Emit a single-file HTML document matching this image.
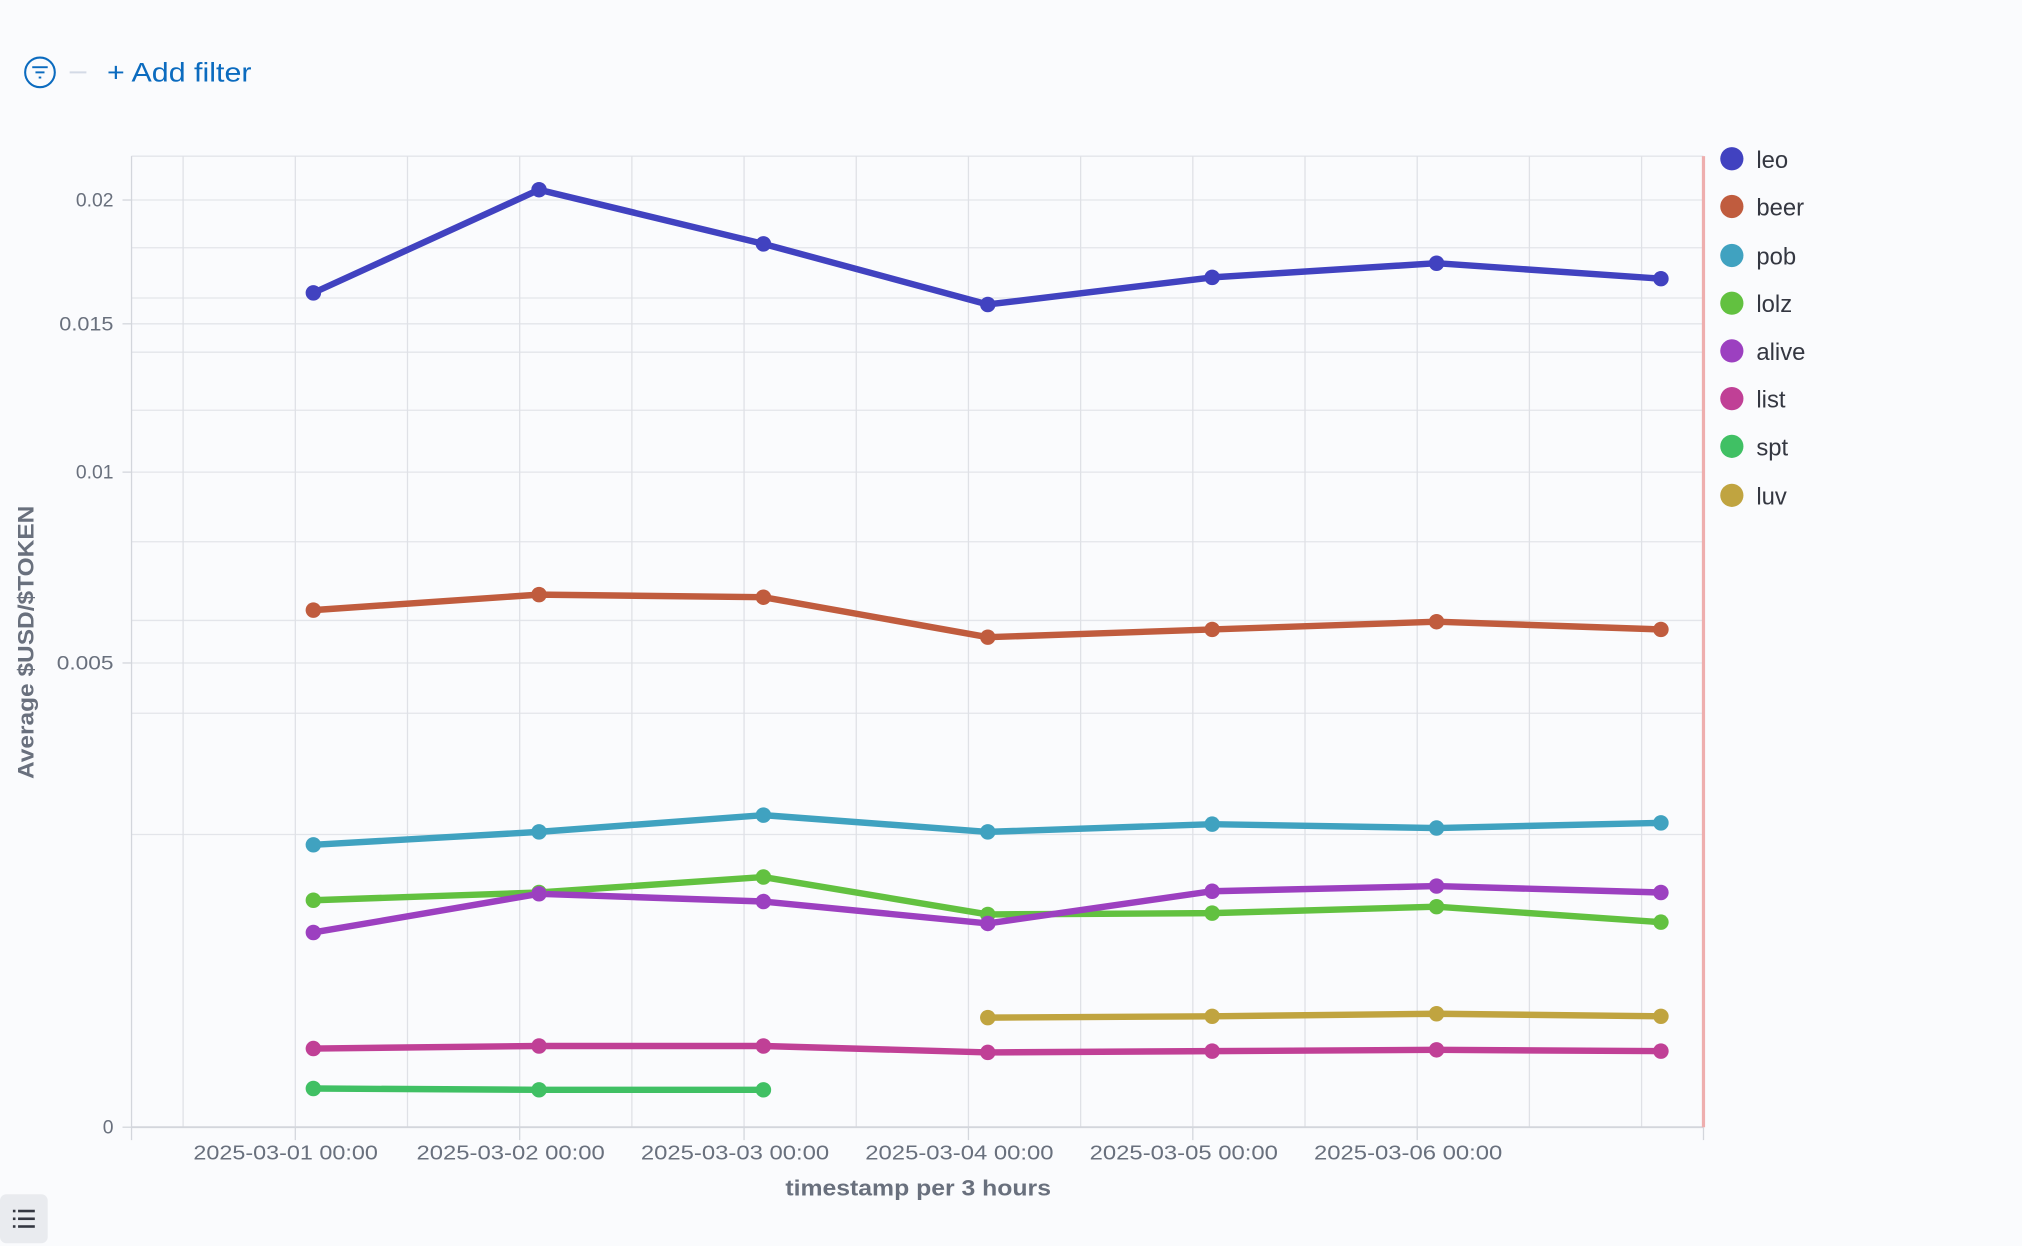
<!DOCTYPE html>
<html><head><meta charset="utf-8"><style>
html,body{margin:0;padding:0;background:#fafbfd;}
svg{display:block;font-family:"Liberation Sans",sans-serif;}
</style></head><body>
<svg width="2022" height="1246" viewBox="0 0 1568 966" xmlns="http://www.w3.org/2000/svg">
<rect width="1568" height="966" fill="#fafbfd"/>
<circle cx="31" cy="56" r="11.5" fill="none" stroke="#0b6bbf" stroke-width="1.6"/>
<line x1="25" y1="52" x2="37" y2="52" stroke="#0b6bbf" stroke-width="1.5"/>
<line x1="27.5" y1="56" x2="34.5" y2="56" stroke="#0b6bbf" stroke-width="1.5"/>
<line x1="30" y1="60" x2="32" y2="60" stroke="#0b6bbf" stroke-width="1.5"/>
<line x1="54" y1="56" x2="67" y2="56" stroke="#d3dae6" stroke-width="1.5"/>
<text x="83" y="63" font-size="21" fill="#0b6bbf" textLength="112" lengthAdjust="spacingAndGlyphs">+ Add filter</text>
<g stroke="#e3e5ea" stroke-width="1">
<line x1="102" y1="121" x2="1321" y2="121"/>
<line x1="102" y1="155" x2="1321" y2="155"/>
<line x1="102" y1="192" x2="1321" y2="192"/>
<line x1="102" y1="231" x2="1321" y2="231"/>
<line x1="102" y1="251" x2="1321" y2="251"/>
<line x1="102" y1="273" x2="1321" y2="273"/>
<line x1="102" y1="318" x2="1321" y2="318"/>
<line x1="102" y1="366" x2="1321" y2="366"/>
<line x1="102" y1="420" x2="1321" y2="420"/>
<line x1="102" y1="481" x2="1321" y2="481"/>
<line x1="102" y1="514" x2="1321" y2="514"/>
<line x1="102" y1="553" x2="1321" y2="553"/>
<line x1="102" y1="647" x2="1321" y2="647"/>
</g>
<g stroke="#dfe1e6" stroke-width="1">
<line x1="142" y1="121" x2="142" y2="874"/><line x1="229" y1="121" x2="229" y2="874"/>
<line x1="316" y1="121" x2="316" y2="874"/><line x1="403" y1="121" x2="403" y2="874"/>
<line x1="490" y1="121" x2="490" y2="874"/><line x1="577" y1="121" x2="577" y2="874"/>
<line x1="664" y1="121" x2="664" y2="874"/><line x1="751" y1="121" x2="751" y2="874"/>
<line x1="838" y1="121" x2="838" y2="874"/><line x1="925" y1="121" x2="925" y2="874"/>
<line x1="1012" y1="121" x2="1012" y2="874"/><line x1="1099" y1="121" x2="1099" y2="874"/>
<line x1="1186" y1="121" x2="1186" y2="874"/><line x1="1273" y1="121" x2="1273" y2="874"/>
</g>
<line x1="102" y1="874" x2="1321" y2="874" stroke="#d3d6dc" stroke-width="1.5"/>
<line x1="102" y1="121" x2="102" y2="884" stroke="#d3d6dc" stroke-width="1"/>
<g stroke="#d3d6dc"><line x1="95" y1="155" x2="102" y2="155"/><line x1="95" y1="251" x2="102" y2="251"/><line x1="95" y1="366" x2="102" y2="366"/><line x1="95" y1="514" x2="102" y2="514"/><line x1="95" y1="874" x2="102" y2="874"/>
<line x1="229" y1="874" x2="229" y2="884"/><line x1="403" y1="874" x2="403" y2="884"/><line x1="577" y1="874" x2="577" y2="884"/><line x1="751" y1="874" x2="751" y2="884"/><line x1="925" y1="874" x2="925" y2="884"/><line x1="1099" y1="874" x2="1099" y2="884"/><line x1="1321" y1="874" x2="1321" y2="884"/></g>
<line x1="1321" y1="121" x2="1321" y2="874" stroke="#eeaeae" stroke-width="2.5"/>
<g font-size="15" fill="#69707d" text-anchor="end">
<text x="88" y="160">0.02</text><text x="88" y="256" textLength="42" lengthAdjust="spacingAndGlyphs">0.015</text><text x="88" y="371">0.01</text><text x="88" y="519" textLength="44" lengthAdjust="spacingAndGlyphs">0.005</text><text x="88" y="879">0</text>
</g>
<g font-size="16" fill="#69707d">
<text x="150" y="899" textLength="143" lengthAdjust="spacingAndGlyphs">2025-03-01 00:00</text>
<text x="323" y="899" textLength="146" lengthAdjust="spacingAndGlyphs">2025-03-02 00:00</text>
<text x="497" y="899" textLength="146" lengthAdjust="spacingAndGlyphs">2025-03-03 00:00</text>
<text x="671" y="899" textLength="146" lengthAdjust="spacingAndGlyphs">2025-03-04 00:00</text>
<text x="845" y="899" textLength="146" lengthAdjust="spacingAndGlyphs">2025-03-05 00:00</text>
<text x="1019" y="899" textLength="146" lengthAdjust="spacingAndGlyphs">2025-03-06 00:00</text>
</g>
<text x="609" y="927" font-size="17" font-weight="bold" fill="#69707d" textLength="206" lengthAdjust="spacingAndGlyphs">timestamp per 3 hours</text>
<text transform="translate(26,604) rotate(-90)" font-size="17" font-weight="bold" fill="#69707d" textLength="212" lengthAdjust="spacingAndGlyphs">Average $USD/$TOKEN</text>
<g fill="none" stroke-width="5" stroke-linejoin="round">
<polyline stroke="#4142c0" points="243,227 418,147 592,189 766,236 940,215 1114,204 1288,216"/>
<polyline stroke="#c05c3e" points="243,473 418,461 592,463 766,494 940,488 1114,482 1288,488"/>
<polyline stroke="#40a2c0" points="243,655 418,645 592,632 766,645 940,639 1114,642 1288,638"/>
<polyline stroke="#62c140" points="243,698 418,692 592,680 766,709 940,708 1114,703 1288,715"/>
<polyline stroke="#9c40c0" points="243,723 418,693 592,699 766,716 940,691 1114,687 1288,692"/>
<polyline stroke="#c04096" points="243,813 418,811 592,811 766,816 940,815 1114,814 1288,815"/>
<polyline stroke="#40c064" points="243,844 418,845 592,845"/>
<polyline stroke="#c0a440" points="766,789 940,788 1114,786 1288,788"/>
</g>
<g>
<g fill="#4142c0"><circle cx="243" cy="227" r="6"/><circle cx="418" cy="147" r="6"/><circle cx="592" cy="189" r="6"/><circle cx="766" cy="236" r="6"/><circle cx="940" cy="215" r="6"/><circle cx="1114" cy="204" r="6"/><circle cx="1288" cy="216" r="6"/></g>
<g fill="#c05c3e"><circle cx="243" cy="473" r="6"/><circle cx="418" cy="461" r="6"/><circle cx="592" cy="463" r="6"/><circle cx="766" cy="494" r="6"/><circle cx="940" cy="488" r="6"/><circle cx="1114" cy="482" r="6"/><circle cx="1288" cy="488" r="6"/></g>
<g fill="#40a2c0"><circle cx="243" cy="655" r="6"/><circle cx="418" cy="645" r="6"/><circle cx="592" cy="632" r="6"/><circle cx="766" cy="645" r="6"/><circle cx="940" cy="639" r="6"/><circle cx="1114" cy="642" r="6"/><circle cx="1288" cy="638" r="6"/></g>
<g fill="#62c140"><circle cx="243" cy="698" r="6"/><circle cx="418" cy="692" r="6"/><circle cx="592" cy="680" r="6"/><circle cx="766" cy="709" r="6"/><circle cx="940" cy="708" r="6"/><circle cx="1114" cy="703" r="6"/><circle cx="1288" cy="715" r="6"/></g>
<g fill="#9c40c0"><circle cx="243" cy="723" r="6"/><circle cx="418" cy="693" r="6"/><circle cx="592" cy="699" r="6"/><circle cx="766" cy="716" r="6"/><circle cx="940" cy="691" r="6"/><circle cx="1114" cy="687" r="6"/><circle cx="1288" cy="692" r="6"/></g>
<g fill="#c04096"><circle cx="243" cy="813" r="6"/><circle cx="418" cy="811" r="6"/><circle cx="592" cy="811" r="6"/><circle cx="766" cy="816" r="6"/><circle cx="940" cy="815" r="6"/><circle cx="1114" cy="814" r="6"/><circle cx="1288" cy="815" r="6"/></g>
<g fill="#40c064"><circle cx="243" cy="844" r="6"/><circle cx="418" cy="845" r="6"/><circle cx="592" cy="845" r="6"/></g>
<g fill="#c0a440"><circle cx="766" cy="789" r="6"/><circle cx="940" cy="788" r="6"/><circle cx="1114" cy="786" r="6"/><circle cx="1288" cy="788" r="6"/></g>
</g>
<g font-size="18.5" fill="#343741">
<circle cx="1343" cy="123" r="9" fill="#4142c0"/><text x="1362" y="130">leo</text>
<circle cx="1343" cy="160" r="9" fill="#c05c3e"/><text x="1362" y="167">beer</text>
<circle cx="1343" cy="198" r="9" fill="#40a2c0"/><text x="1362" y="205">pob</text>
<circle cx="1343" cy="235" r="9" fill="#62c140"/><text x="1362" y="242">lolz</text>
<circle cx="1343" cy="272" r="9" fill="#9c40c0"/><text x="1362" y="279">alive</text>
<circle cx="1343" cy="309" r="9" fill="#c04096"/><text x="1362" y="316">list</text>
<circle cx="1343" cy="346" r="9" fill="#40c064"/><text x="1362" y="353">spt</text>
<circle cx="1343" cy="384" r="9" fill="#c0a440"/><text x="1362" y="391">luv</text>
</g>
<rect x="0" y="926" width="37" height="38" rx="5" fill="#e9ebef"/>
<g fill="#343741"><rect x="10" y="938" width="2" height="2"/><rect x="14" y="938" width="13" height="2"/><rect x="10" y="944" width="2" height="2"/><rect x="14" y="944" width="13" height="2"/><rect x="10" y="950" width="2" height="2"/><rect x="14" y="950" width="13" height="2"/></g>
</svg>
</body></html>
